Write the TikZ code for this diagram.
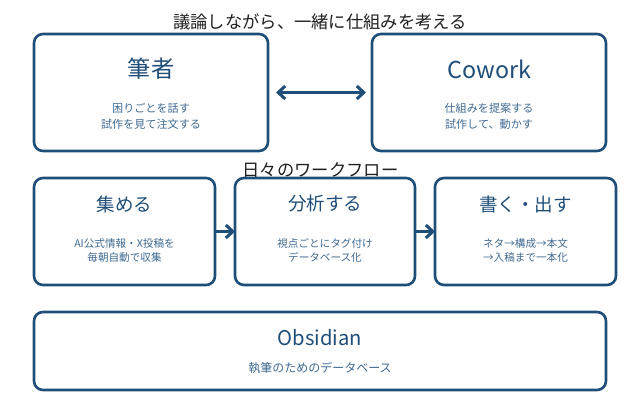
\documentclass[tikz,border=0pt]{standalone}
\usepackage{fontspec}
\setmainfont{Noto Sans CJK JP}
\usetikzlibrary{arrows.meta}
\definecolor{navy}{HTML}{1F4E79}
\definecolor{subc}{HTML}{3F6A92}
\tikzset{
  card/.style={draw=navy,line width=2.6pt,rounded corners=9pt,fill=white,minimum width=#1,inner sep=0pt,outer sep=0pt},
  head/.style={text=black!88,font=\fontsize{17.3}{20}\selectfont,inner sep=0pt},
  bigt/.style={text=navy,font=\fontsize{23.3}{27}\selectfont,inner sep=0pt},
  midt/.style={text=navy,font=\fontsize{18.5}{22}\selectfont,inner sep=0pt},
  subt/.style={text=subc,align=center,font=\fontsize{11.1}{15.5}\selectfont,inner sep=0pt},
  subs/.style={text=subc,align=center,font=\fontsize{10.6}{14.5}\selectfont,inner sep=0pt},
  link/.style={draw=navy,line width=3.4pt,-{Straight Barb[length=7pt,width=13pt,line width=3pt]}},
  dlink/.style={draw=navy,line width=3.4pt,{Straight Barb[length=7pt,width=13pt,line width=3pt]}-{Straight Barb[length=7pt,width=13pt,line width=3pt]}}
}
\begin{document}
\begin{tikzpicture}[x=1pt,y=-1pt]
\useasboundingbox (0,0) rectangle (640,420);
\node[head] (t1) at (320,22) {議論しながら、一緒に仕組みを考える};
\node[head] (t2) at (320.5,170) {日々のワークフロー};
\node[card=234pt,minimum height=117pt] (a) at (151,92.5) {};
\node[card=234pt,minimum height=117pt] (b) at (489,92.5) {};
\node[card=181pt,minimum height=107pt] (c) at (124.5,231.5) {};
\node[card=180pt,minimum height=107pt] (d) at (325,231.5) {};
\node[card=181pt,minimum height=107pt] (e) at (525.5,231.5) {};
\node[card=572pt,minimum height=78pt] (f) at (320,351) {};
\draw[dlink] (a.east) ++(8,0) coordinate (p) (b.west) ++(-6,0) coordinate (q) (p) -- (q);
\draw[link] (c) -- (d);
\draw[link] (d) -- (e);
\node[bigt] (a1) at (151,69) {筆者};
\node[subt] (a2) at (151,116.5) {困りごとを話す\\試作を見て注文する};
\node[bigt] (b1) at (489.5,69) {Cowork};
\node[subt] (b2) at (489,116.5) {仕組みを提案する\\試作して、動かす};
\node[midt] (c1) at (124.5,204) {集める};
\node[subs] (c2) at (124.5,250.5) {AI公式情報・X投稿を\\毎朝自動で収集};
\node[midt] (d1) at (325,204) {分析する};
\node[subs] (d2) at (325,250.5) {視点ごとにタグ付け\\データベース化};
\node[midt] (e1) at (525.5,204) {書く・出す};
\node[subs] (e2) at (525.5,250.5) {ネタ→構成→本文\\→入稿まで一本化};
\node[text=navy,font=\fontsize{20.2}{24}\selectfont,inner sep=0pt] (f1) at (320,338) {Obsidian};
\node[subt,font=\fontsize{12}{15}\selectfont] (f2) at (320,367.5) {執筆のためのデータベース};
\end{tikzpicture}
\end{document}
